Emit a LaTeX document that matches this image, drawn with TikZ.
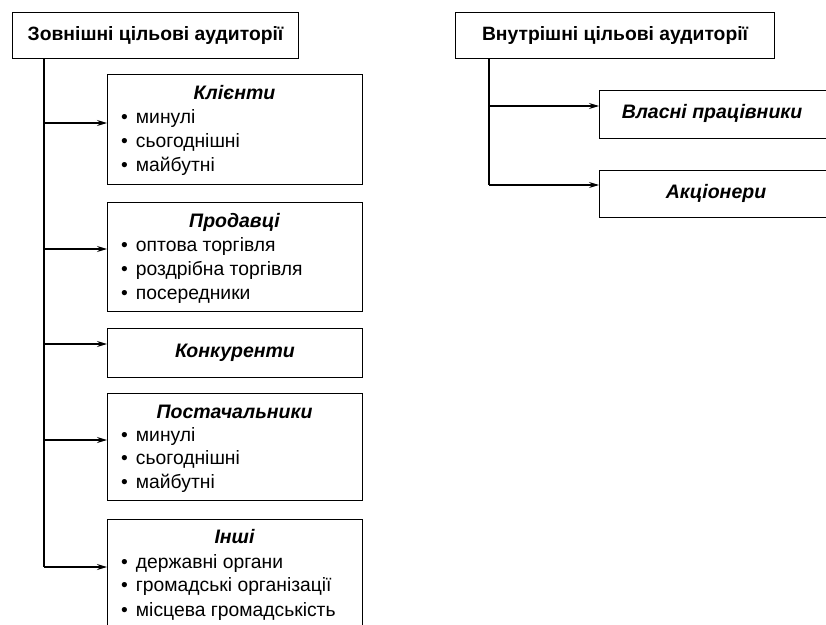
\documentclass[tikz,border=0pt]{standalone}
\usepackage{fontspec}
\setmainfont{Liberation Sans}
\usetikzlibrary{arrows.meta}
\begin{document}
\begin{tikzpicture}[x=1pt,y=-1pt,
 box/.style={draw, line width=1.1pt, anchor=north west, inner sep=0pt},
 head/.style={font=\fontsize{19.3}{22}\selectfont\bfseries},
 ttl/.style={font=\fontsize{19.5}{22}\selectfont\bfseries\itshape, inner sep=0pt},
 itm/.style={font=\fontsize{19.3}{22}\selectfont, anchor=base west, inner sep=0pt},
 arr/.style={line width=1.1pt, -{Stealth[length=10pt,width=6pt]}},
 ln/.style={line width=1.1pt}]
\clip (0,0) rectangle (826,624);
\fill[white] (0,0) rectangle (826,624);
% left column
\node[box, minimum width=286pt, minimum height=46pt] (z) at (12,12) {};
\node[head] (zt) at (z.center) {Зовнішні цільові аудиторії};
\node[box, minimum width=255pt, minimum height=110pt] (k) at (107,74) {};
\node[box, minimum width=255pt, minimum height=109pt] (p) at (107,202) {};
\node[box, minimum width=255pt, minimum height=49pt] (c) at (107,328) {};
\node[box, minimum width=255pt, minimum height=107pt] (s) at (107,393) {};
\node[box, minimum width=255pt, minimum height=115pt] (i) at (107,519) {};
% texts
\node[ttl] (kt) at (234.5,93) {Клієнти};
\node[itm] (k1) at (121,123) {\textbullet\hspace{8pt}минулі};
\node[itm] (k2) at (121,147) {\textbullet\hspace{8pt}сьогоднішні};
\node[itm] (k3) at (121,171) {\textbullet\hspace{8pt}майбутні};
\node[ttl] (pt) at (234.5,222) {Продавці};
\node[itm] (p1) at (121,251) {\textbullet\hspace{8pt}оптова торгівля};
\node[itm] (p2) at (121,275) {\textbullet\hspace{8pt}роздрібна торгівля};
\node[itm] (p3) at (121,299) {\textbullet\hspace{8pt}посередники};
\node[ttl] (ct) at (c.center) {Конкуренти};
\node[ttl] (st) at (234.5,412) {Постачальники};
\node[itm] (s1) at (121,441) {\textbullet\hspace{8pt}минулі};
\node[itm] (s2) at (121,464) {\textbullet\hspace{8pt}сьогоднішні};
\node[itm] (s3) at (121,488) {\textbullet\hspace{8pt}майбутні};
\node[ttl] (it) at (234.5,537) {Інші};
\node[itm] (i1) at (121,568) {\textbullet\hspace{8pt}державні органи};
\node[itm] (i2) at (121,591) {\textbullet\hspace{8pt}громадські організації};
\node[itm] (i3) at (121,616) {\textbullet\hspace{8pt}місцева громадськість};
% connector endpoints
\coordinate (sx) at (44,0);
\coordinate (ka) at (107,123);
\coordinate (pa) at (107,249);
\coordinate (ca) at (107,344);
\coordinate (sa) at (107,440);
\coordinate (ia) at (107,567);
\draw[ln] (z.south -| sx) -- (sx |- ia);
\foreach \t in {ka,pa,ca,sa,ia}{\draw[arr] (sx |- \t) -- (\t);}
% right column
\node[box, minimum width=319pt, minimum height=46pt] (v) at (455,12) {};
\node[head] (vt) at (v.center) {Внутрішні цільові аудиторії};
\node[box, minimum width=229pt, minimum height=48pt] (w) at (599,90) {};
\node[box, minimum width=229pt, minimum height=47pt] (a) at (599,170) {};
\node[ttl] (wt) at (712,113) {Власні працівники};
\node[ttl] (at) at (716,193) {Акціонери};
\coordinate (rx) at (489,0);
\coordinate (wa) at (599,106);
\coordinate (aa) at (599,185);
\draw[ln] (v.south -| rx) -- (rx |- aa);
\foreach \t in {wa,aa}{\draw[arr] (rx |- \t) -- (\t);}
\end{tikzpicture}
\end{document}
